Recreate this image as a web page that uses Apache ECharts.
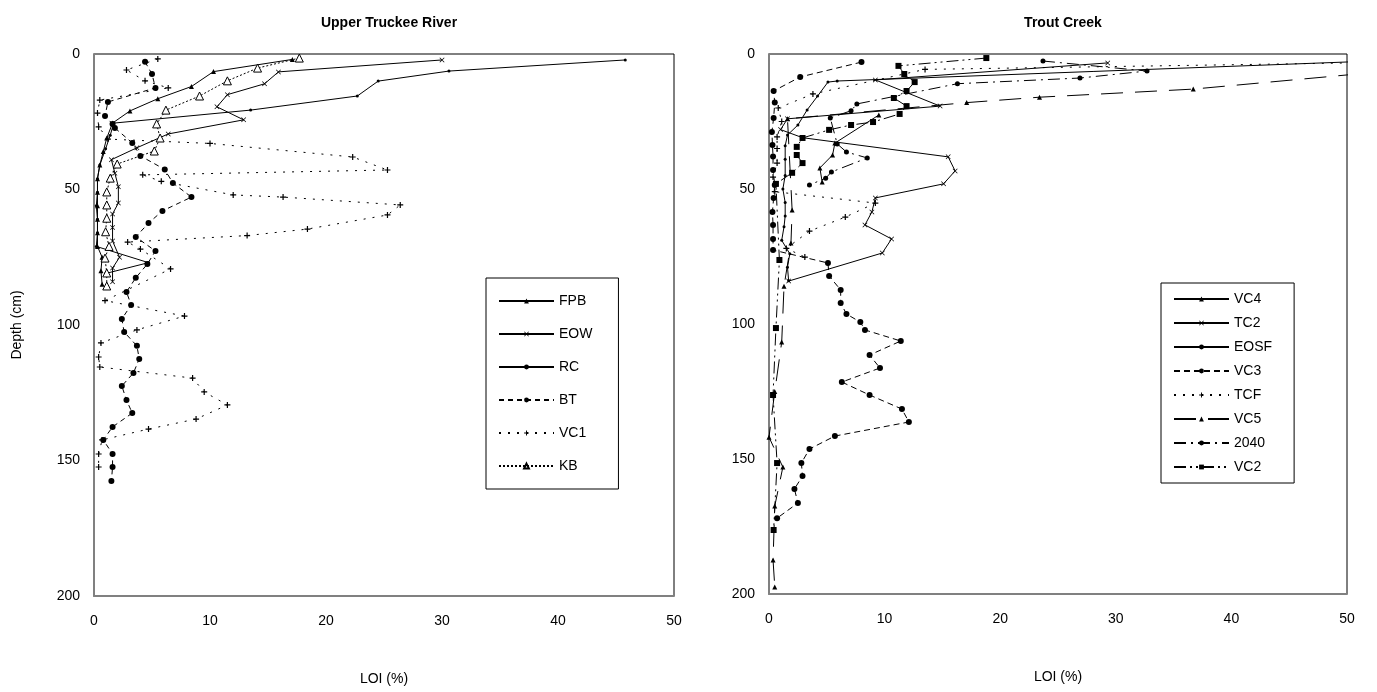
<!DOCTYPE html>
<html>
<head>
<meta charset="utf-8">
<script src="https://cdn.jsdelivr.net/npm/echarts@6/dist/echarts.min.js"></script>
<style>
  html, body { margin: 0; padding: 0; background: #fff; }
  #main { width: 1377px; height: 692px; }
</style>
</head>
<body>
<div id="main"></div>
<script>
// Upper Truckee River  [LOI %, depth cm]
var fpb = [[17.1,2],[10.3,6.5],[8.4,12],[5.5,16.5],[3.1,21],[1.6,25.5],[1.1,31],[0.8,36],[0.5,41],[0.3,46],[0.3,51],[0.3,56],[0.3,61],[0.3,66],[0.3,71],[0.7,75],[0.6,80],[0.7,85]];
var eow = [[30,2.2],[15.9,6.6],[14.7,11],[11.5,15],[10.6,19.5],[12.9,24.3],[6.4,29.5],[3.7,34.6],[1.5,39],[1.8,44],[2.1,49],[2.1,55],[1.6,59],[1.6,64],[1.6,69],[2.2,75],[1.6,79],[1.6,84]];
var rc = [[45.8,2.2],[30.6,6.3],[24.5,10],[22.7,15.5],[13.5,20.7],[1.7,25.5],[1.4,30],[1.0,35],[0.5,41],[0.3,46],[0.3,51],[0.2,56],[0.3,61],[0.3,66],[0.2,71],[4.7,77],[1.0,81]];
var bt = [[4.4,2.9],[5.0,7.4],[5.3,12.5],[1.2,17.7],[0.95,22.9],[1.6,25.8],[1.8,27.3],[3.3,32.8],[4.0,37.6],[6.1,42.6],[6.8,47.6],[8.4,52.8],[5.9,57.9],[4.7,62.4],[3.6,67.5],[5.3,72.7],[4.6,77.5],[3.6,82.6],[2.8,87.8],[3.2,92.6],[2.4,97.8],[2.6,102.6],[3.7,107.7],[3.9,112.5],[3.4,117.7],[2.4,122.5],[2.8,127.7],[3.3,132.5],[1.6,137.6],[0.8,142.4],[1.6,147.6],[1.6,152.4],[1.5,157.6]];
var vc1 = [[5.5,1.8],[2.8,5.9],[4.4,9.9],[6.4,12.5],[0.5,17],[0.3,21.8],[0.4,26.9],[1.2,31.4],[10,33],[22.3,38],[25.3,42.8],[4.2,44.6],[5.8,47],[12,52],[16.3,52.8],[26.4,55.7],[25.3,59.4],[18.4,64.6],[13.2,67],[2.9,69.4],[4,72],[6.6,79.3],[0.95,91],[7.8,96.7],[3.7,101.8],[0.6,106.6],[0.4,111.8],[0.5,115.5],[8.5,119.6],[9.5,124.7],[11.5,129.5],[8.8,134.7],[4.7,138.4],[0.7,142.4],[0.4,147.6],[0.4,152.4]];
var kb = [[17.7,1.5],[14.1,5.2],[11.5,9.9],[9.1,15.5],[6.2,20.7],[5.4,25.8],[5.7,31],[5.2,35.8],[2.0,40.6],[1.4,45.8],[1.1,50.9],[1.1,55.7],[1.1,60.6],[1.0,65.6],[1.3,71],[0.95,75.3],[1.1,80.8],[1.1,85.6]];

// Trout Creek
var vc4 = [[9.5,22.6],[5.7,33],[5.5,37.4],[4.4,42.2],[4.6,47.4]];
var tc2 = [[29.3,3.3],[9.2,9.6],[14.8,19.3],[1.6,24],[1.0,28],[2.9,31],[15.5,38.1],[16.1,43.3],[15.1,48.1],[9.2,53.3],[8.9,58.5],[8.3,63.3],[10.6,68.5],[9.8,73.7],[1.7,84.1]];
var eosf = [[56,2],[5.9,10],[5.1,10.4],[4.2,15.6],[3.3,20.7],[2.5,26.3],[1.6,30],[1.4,34],[1.4,39],[1.4,45],[1.2,50],[1.4,55],[1.4,60],[1.3,64],[1.1,69],[1.8,74],[1.6,79],[1.7,84]];
var vc3 = [[8.0,3.0],[2.7,8.5],[0.4,13.7],[0.5,18],[0.4,23.7],[0.25,28.9],[0.3,33.7],[0.35,38],[0.35,43],[0.5,48.5],[0.4,53.3],[0.3,58.5],[0.35,63.3],[0.35,68.5],[0.35,72.6],[5.1,77.4],[5.2,82.2],[6.2,87.4],[6.2,92.2],[6.7,96.3],[7.9,99.3],[8.3,102.2],[11.4,106.3],[8.7,111.5],[9.6,116.3],[6.3,121.5],[8.7,126.3],[11.5,131.5],[12.1,136.3],[5.7,141.5],[3.5,146.3],[2.8,151.5],[2.9,156.3],[2.2,161.1],[2.5,166.3],[0.7,171.9]];
var tcf = [[55,3],[13.5,5.7],[3.8,14.8],[0.8,20],[1.1,25],[0.7,30.7],[0.7,35],[0.7,40.4],[0.35,45.6],[0.5,51],[9.2,55.2],[6.6,60.4],[3.5,65.6],[1.5,72],[3.1,75.2]];
var vc5 = [[57,5],[36.7,13],[23.4,16],[17.1,18],[1.6,24],[2.0,57.8],[1.9,70],[1.3,86],[1.1,106.7],[0.5,125],[0,141.9],[1.2,153],[0.5,167.4],[0.35,187.4],[0.5,197.4]];
var s2040 = [[23.7,2.6],[32.7,6.3],[26.9,8.9],[16.3,11],[7.6,18.5],[7.1,21],[5.3,23.7],[5.9,33.3],[6.7,36.3],[8.5,38.5],[5.4,43.7],[4.9,46],[3.5,48.5]];
var vc2 = [[18.8,1.5],[11.2,4.4],[11.7,7.4],[12.6,10.4],[11.9,13.7],[10.8,16.3],[11.9,19.3],[11.3,22.2],[9.0,25.2],[7.1,26.3],[5.2,28.1],[2.9,31.1],[2.4,34.4],[2.4,37.4],[2.9,40.4],[2.0,44],[0.6,48.1],[0.9,76.3],[0.6,101.5],[0.35,126.3],[0.7,151.5],[0.4,176.3]];

var chart = echarts.init(document.getElementById('main'));
var FONT = 'Liberation Sans, Arial, sans-serif';

// symbols
var PLUS = 'path://M4,0h2v10h-2zM0,4h10v2h-10z';
var CROSS = 'path://M0,1L1,0L10,9L9,10zM9,0L10,1L1,10L0,9z';

function ser(name, data, idx, dash, symbol, size, hollow) {
    return {
        name: name,
        type: 'line',
        xAxisIndex: idx,
        yAxisIndex: idx,
        data: data,
        symbol: symbol,
        symbolSize: size,
        showSymbol: true,
        clip: true,
        animation: false,
        lineStyle: { color: '#000', width: 1, type: dash },
        itemStyle: hollow ? { color: '#fff', borderColor: '#000', borderWidth: 1 } : { color: '#000', borderWidth: 0 }
    };
}

function xAx(idx) {
    return {
        gridIndex: idx, type: 'value', min: 0, max: 50, interval: 10,
        name: 'LOI (%)', nameLocation: 'middle', nameGap: 76,
        nameTextStyle: { fontFamily: FONT, fontSize: 14, color: '#000' },
        axisLine: { onZero: false, lineStyle: { color: '#808080', width: 2 } },
        axisTick: { show: false },
        axisLabel: { fontFamily: FONT, fontSize: 14, color: '#000', margin: 18 },
        splitLine: { show: false }
    };
}
function yAx(idx, named) {
    return {
        gridIndex: idx, type: 'value', min: 0, max: 200, interval: 50, inverse: true,
        name: named ? 'Depth (cm)' : '', nameLocation: 'middle', nameGap: 70,
        nameTextStyle: { fontFamily: FONT, fontSize: 14, color: '#000' },
        axisLine: { onZero: false, lineStyle: { color: '#808080', width: 2 } },
        axisTick: { show: false },
        axisLabel: { fontFamily: FONT, fontSize: 14, color: '#000', margin: 14 },
        splitLine: { show: false }
    };
}

var legendBase = {
    orient: 'vertical',
    itemWidth: 55,
    itemHeight: 6,
    borderColor: '#000',
    borderWidth: 1,
    backgroundColor: '#fff',
    textStyle: { fontFamily: FONT, fontSize: 14, color: '#000' }
};

var option = {
    backgroundColor: '#fff',
    animation: false,
    title: [
        { text: 'Upper Truckee River', left: 384, top: 11, textAlign: 'center',
          textStyle: { fontFamily: FONT, fontSize: 14, fontWeight: 'bold', color: '#000' } },
        { text: 'Trout Creek', left: 1058, top: 11, textAlign: 'center',
          textStyle: { fontFamily: FONT, fontSize: 14, fontWeight: 'bold', color: '#000' } }
    ],
    grid: [
        { left: 94, top: 54, width: 580, height: 542, show: true, borderColor: '#000', borderWidth: 1, backgroundColor: '#fff' },
        { left: 769, top: 54, width: 578, height: 540, show: true, borderColor: '#000', borderWidth: 1, backgroundColor: '#fff' }
    ],
    xAxis: [xAx(0), xAx(1)],
    yAxis: [yAx(0, true), yAx(1, false)],
    legend: [
        Object.assign({}, legendBase, {
            data: ['FPB', 'EOW', 'RC', 'BT', 'VC1', 'KB'],
            left: 486, top: 278, itemGap: 19,
            padding: [16, 26, 16, 12]
        }),
        Object.assign({}, legendBase, {
            data: ['VC4', 'TC2', 'EOSF', 'VC3', 'TCF', 'VC5', '2040', 'VC2'],
            left: 1161, top: 283, itemGap: 10,
            padding: [9, 22, 9, 12]
        })
    ],
    series: [
        ser('FPB', fpb, 0, 'solid', 'triangle', 5),
        ser('EOW', eow, 0, 'solid', CROSS, 5),
        ser('RC', rc, 0, 'solid', 'circle', 3),
        ser('BT', bt, 0, [5, 4], 'circle', 6),
        ser('VC1', vc1, 0, [2, 7], PLUS, 6),
        ser('KB', kb, 0, [2, 2], 'triangle', 8, true),

        ser('VC4', vc4, 1, 'solid', 'triangle', 5),
        ser('TC2', tc2, 1, 'solid', CROSS, 5),
        ser('EOSF', eosf, 1, 'solid', 'circle', 3),
        ser('VC3', vc3, 1, [6, 4], 'circle', 6),
        ser('TCF', tcf, 1, [2, 7], PLUS, 6),
        ser('VC5', vc5, 1, [22, 12], 'triangle', 5),
        ser('2040', s2040, 1, [12, 5, 2, 5], 'circle', 5),
        ser('VC2', vc2, 1, [12, 4, 2, 4, 2, 4], 'rect', 6)
    ]
};
chart.setOption(option);
</script>
</body>
</html>
